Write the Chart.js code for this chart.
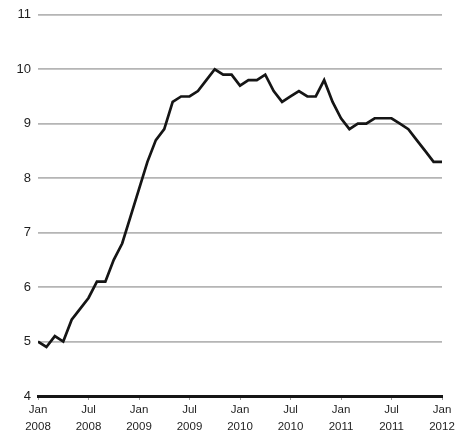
<!DOCTYPE html>
<html>
<head>
<meta charset="utf-8">
<script src="https://cdn.jsdelivr.net/npm/chart.js@4/dist/chart.umd.min.js"></script>
<style>
  html, body { margin: 0; padding: 0; background: #fff; }
  #wrap { width: 460px; height: 444px; }
</style>
</head>
<body>
<div id="wrap"><canvas id="c" width="460" height="444"></canvas></div>
<script>
// Monthly values, Jan 2008 .. Jan 2012 (index 0..48)
const rate2008 = [5.0, 4.9, 5.1, 5.0, 5.4, 5.6, 5.8, 6.1, 6.1, 6.5, 6.8, 7.3];
const rate2009 = [7.8, 8.3, 8.7, 8.9, 9.4, 9.5, 9.5, 9.6, 9.8, 10.0, 9.9, 9.9];
const rate2010 = [9.7, 9.8, 9.8, 9.9, 9.6, 9.4, 9.5, 9.6, 9.5, 9.5, 9.8, 9.4];
const rate2011 = [9.1, 8.9, 9.0, 9.0, 9.1, 9.1, 9.1, 9.0, 8.9, 8.7, 8.5, 8.3];
const rate2012 = [8.3];
const tickMonths = ['Jan', 'Jul', 'Jan', 'Jul', 'Jan', 'Jul', 'Jan', 'Jul', 'Jan'];
const tickYears  = ['2008', '2008', '2009', '2009', '2010', '2010', '2011', '2011', '2012'];
const yTicks = [4, 5, 6, 7, 8, 9, 10, 11];

const values = [...rate2008, ...rate2009, ...rate2010, ...rate2011, ...rate2012];
const points = values.map((v, i) => ({ x: i, y: v }));

new Chart(document.getElementById('c'), {
  type: 'line',
  data: {
    datasets: [{
      data: points,
      borderColor: '#151515',
      borderWidth: 2.7,
      pointRadius: 0,
      tension: 0,
      fill: false
    }]
  },
  options: {
    responsive: false,
    animation: false,
    layout: { padding: { top: 12, right: 18, left: 0, bottom: 0 } },
    plugins: { legend: { display: false }, tooltip: { enabled: false } },
    scales: {
      x: {
        type: 'linear',
        min: 0,
        max: 48,
        afterBuildTicks: (s) => { s.ticks = tickMonths.map((m, i) => ({ value: i * 6 })); },
        afterFit: (s) => { s.height = 48; },
        ticks: {
          autoSkip: false,
          maxRotation: 0,
          padding: 1,
          color: '#1e1e1e',
          font: { family: "'Liberation Sans', Arial, sans-serif", size: 11.5, lineHeight: 1.5 },
          callback: (v) => { const k = Math.round(v / 6); return [tickMonths[k], tickYears[k]]; }
        },
        grid: { drawOnChartArea: false, drawTicks: true, tickLength: 4, color: '#999', lineWidth: 1 },
        border: { display: true, color: '#151515', width: 3 }
      },
      y: {
        min: 4,
        max: 11,
        afterBuildTicks: (s) => { s.ticks = yTicks.map(v => ({ value: v })); },
        afterFit: (s) => { s.width = 38; },
        ticks: {
          padding: 7,
          color: '#1e1e1e',
          font: { family: "'Liberation Sans', Arial, sans-serif", size: 13 }
        },
        grid: { drawTicks: false, color: '#b5b5b5', lineWidth: 1.8 },
        border: { display: false }
      }
    }
  }
});
</script>
</body>
</html>
